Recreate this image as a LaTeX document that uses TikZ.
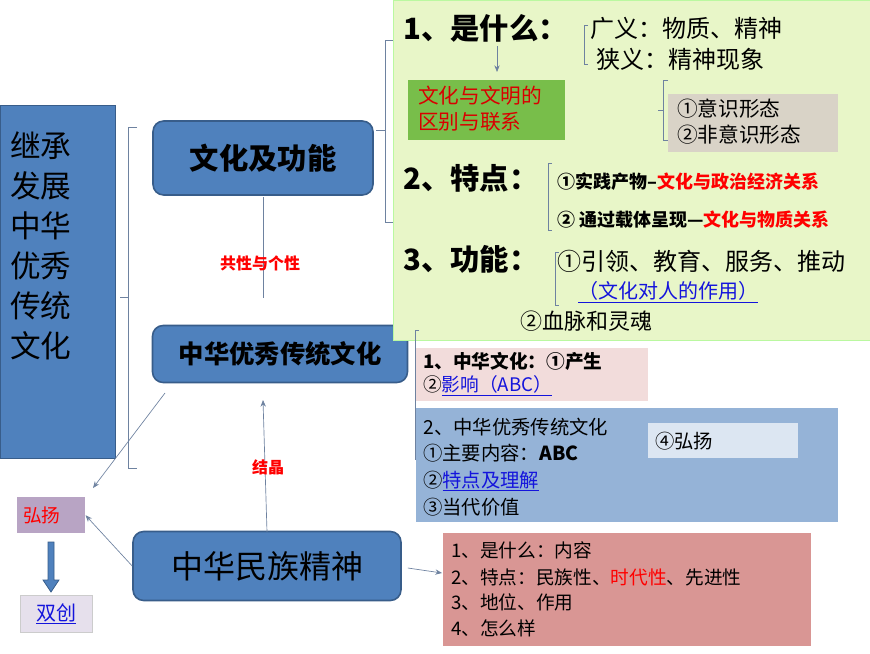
\documentclass[tikz,border=0pt]{standalone}
\usepackage{fontspec}
\setmainfont{Noto Sans CJK SC}
\usetikzlibrary{arrows.meta}
\definecolor{bbox}{RGB}{79,129,189}
\definecolor{bedge}{RGB}{56,93,138}
\definecolor{gbg}{RGB}{232,246,200}
\definecolor{gbox}{RGB}{120,190,74}
\definecolor{graybox}{RGB}{217,211,199}
\definecolor{pinkbox}{RGB}{242,220,219}
\definecolor{bluebox}{RGB}{149,179,215}
\definecolor{lbox}{RGB}{220,230,242}
\definecolor{redbox}{RGB}{217,150,148}
\definecolor{purp}{RGB}{184,164,196}
\definecolor{lav}{RGB}{230,224,236}
\definecolor{lnk}{RGB}{20,20,220}
\definecolor{ln}{RGB}{110,130,160}
\newcommand\fs[1]{\fontsize{#1}{#1}\selectfont}
\newcommand\fsb[2]{\fontsize{#1}{#2}\selectfont}
\tikzset{
 mainbox/.style={draw=bedge,line width=1.2pt,fill=bbox,rounded corners=8pt,inner sep=0pt},
 rect/.style={inner sep=0pt,draw=none},
 txt/.style={anchor=west,inner sep=0pt},
 conn/.style={draw=ln,line width=0.5pt},
 arr/.style={conn,-{Stealth[length=5pt,width=4pt]}},
 brk/.style={draw=ln,line width=0.5pt},
 lab/.style={text=red,inner sep=0pt,font=\fs{12pt}\bfseries},
}
\begin{document}
\begin{tikzpicture}[x=0.75pt,y=-0.75pt]
\useasboundingbox (0,0) rectangle (870,653);
\fill[white] (0,0) rectangle (870,653);
% left tall box
\node[rect,fill=bbox,draw=bedge,minimum width=115*0.75pt,minimum height=353*0.75pt,anchor=north west] (L) at (0,105) {};
\node[txt,anchor=north west,align=left,font=\fsb{23pt}{30pt}] (Lt) at (10,131) {继承\\发展\\中华\\优秀\\传统\\文化};
% bracket left
\draw[brk] (137,127) -- (128,127) -- (128,468) -- (137,468);
\draw[brk] (128,297) -- (120,297);
% main boxes
\node[mainbox,minimum width=220*0.75pt,minimum height=74*0.75pt,font=\fs{22pt}\bfseries] (A) at (263,158) {文化及功能};
\node[mainbox,minimum width=255*0.75pt,minimum height=57*0.75pt,font=\fs{19pt}\bfseries] (B) at (280,354) {中华优秀传统文化};
\node[mainbox,minimum width=268*0.75pt,minimum height=69*0.75pt,font=\fs{24pt}] (C) at (267,566) {中华民族精神};
\draw[conn] (263,197) -- (263,298);
\node[lab] (l1) at (260,263) {共性与个性};
\coordinate (cu) at (263,400);
\draw[arr] (267,532) -- (cu);
\node[lab] (l2) at (268,467) {结晶};
% 弘扬 / 双创
\node[rect,fill=purp,minimum width=68*0.75pt,minimum height=36*0.75pt,anchor=north west,text=red,font=\fs{14pt}] (H) at (17,497) {\hspace*{-14pt}弘扬};
\node[rect,fill=lav,draw=gray!40,minimum width=72*0.75pt,minimum height=37*0.75pt,anchor=north west,text=lnk,font=\fs{15pt}] (S) at (20,595) {\underline{双创}};
\coordinate (bl) at (165,393);
\draw[arr] (bl) -- (93,488);
\draw[arr] (C.west) -- (H.east);
\draw[draw=bedge,fill=bbox,line width=0.6pt] (48,542) -- (54,542) -- (54,580) -- (59,580) -- (51,592) -- (43,580) -- (48,580) -- cycle;
% green region
\draw[brk] (393,40) -- (385,40) -- (385,222) -- (393,222);
\draw[brk] (385,130) -- (376,130);
\node[rect,fill=gbg,draw=gbg!80!green,minimum width=477*0.75pt,minimum height=340*0.75pt,anchor=north west] (G) at (393,0) {};
\node[txt,font=\fs{22pt}\bfseries] (g1) at (403,28) {1、是什么：};
\draw[brk] (588,25) -- (584,25) -- (584,64) -- (588,64);
\node[txt,font=\fs{18pt}] (g1a) at (590,28) {广义：物质、精神};
\node[txt,font=\fs{18pt}] (g1b) at (596,59) {狭义：精神现象};
\coordinate (g1d) at (497,72);
\draw[arr] (497,46) -- (g1d);
\node[rect,fill=gbox,minimum width=157*0.75pt,minimum height=60*0.75pt,anchor=north west] (GB) at (408,80) {};
\node[txt,anchor=north west,align=left,text=red!85!black,font=\fsb{15.5pt}{19pt}] (GBt) at (418,86) {文化与文明的\\区别与联系};
\draw[brk] (668,80) -- (663,80) -- (663,140) -- (668,140);
\draw[brk] (663,110) -- (658,110);
\node[rect,fill=graybox,minimum width=170*0.75pt,minimum height=58*0.75pt,anchor=north west] (GR) at (668,94) {};
\node[txt,anchor=north west,align=left,font=\fsb{15.5pt}{19.5pt}] (GRt) at (677,99) {①意识形态\\②非意识形态};
\node[txt,font=\fs{22pt}\bfseries] (g2) at (403,178) {2、特点：};
\draw[brk] (552,163) -- (548,163) -- (548,230) -- (552,230);
\node[txt,font=\fs{13.5pt}\bfseries] (g2a) at (557,182) {①实践产物--\textcolor{red}{文化与政治经济关系}};
\node[txt,font=\fs{13.5pt}\bfseries] (g2b) at (557,220) {② 通过载体呈现—\textcolor{red}{文化与物质关系}};
\node[txt,font=\fs{22pt}\bfseries] (g3) at (403,259) {3、功能：};
\draw[brk] (559,252) -- (555,252) -- (555,305) -- (559,305);
\node[txt,font=\fs{18pt}] (g3a) at (557,261) {①引领、教育、服务、推动};
\node[txt,font=\fs{15pt},text=lnk] (g3b) at (578,292) {\underline{（文化对人的作用）}};
\node[txt,font=\fs{16.5pt}] (g3c) at (520,321) {②血脉和灵魂};
% lower right boxes
\draw[brk] (419,330) -- (415,330) -- (415,460);
\node[rect,fill=pinkbox,minimum width=232*0.75pt,minimum height=53*0.75pt,anchor=north west] (P) at (416,348) {};
\node[txt,font=\fs{14pt}\bfseries] (p1) at (423,361) {1、中华文化：①产生};
\node[txt,font=\fs{14pt}] (p2) at (423,386) {②\textcolor{lnk}{\underline{影响（ABC）}}};
\node[rect,fill=bluebox,minimum width=422*0.75pt,minimum height=114*0.75pt,anchor=north west] (Q) at (416,408) {};
\node[rect,fill=lbox,minimum width=150*0.75pt,minimum height=35*0.75pt,anchor=north west] (Q4) at (648,423) {};
\node[txt,font=\fs{14.5pt}] (q4) at (655,441) {④弘扬};
\node[txt,font=\fs{14.5pt}] (q1) at (423,427) {2、中华优秀传统文化};
\node[txt,font=\fs{14.5pt}] (q2) at (423,453) {①主要内容：\textbf{ABC}};
\node[txt,font=\fs{14.5pt}] (q3) at (423,481) {②\textcolor{lnk}{\underline{特点及理解}}};
\node[txt,font=\fs{14.5pt}] (q5) at (423,507) {③当代价值};
\node[rect,fill=redbox,draw=white,minimum width=369*0.75pt,minimum height=114*0.75pt,anchor=north west] (R) at (442,532) {};
\draw[arr] (C.east) ++(6,2) -- (R.west |- 0,573);
\node[txt,font=\fs{14pt}] (r1) at (451,550) {1、是什么：内容};
\node[txt,font=\fs{14pt}] (r2) at (451,577) {2、特点：民族性、\textcolor{red}{时代性}、先进性};
\node[txt,font=\fs{14pt}] (r3) at (451,602) {3、地位、作用};
\node[txt,font=\fs{14pt}] (r4) at (451,628) {4、怎么样};
\end{tikzpicture}
\end{document}
